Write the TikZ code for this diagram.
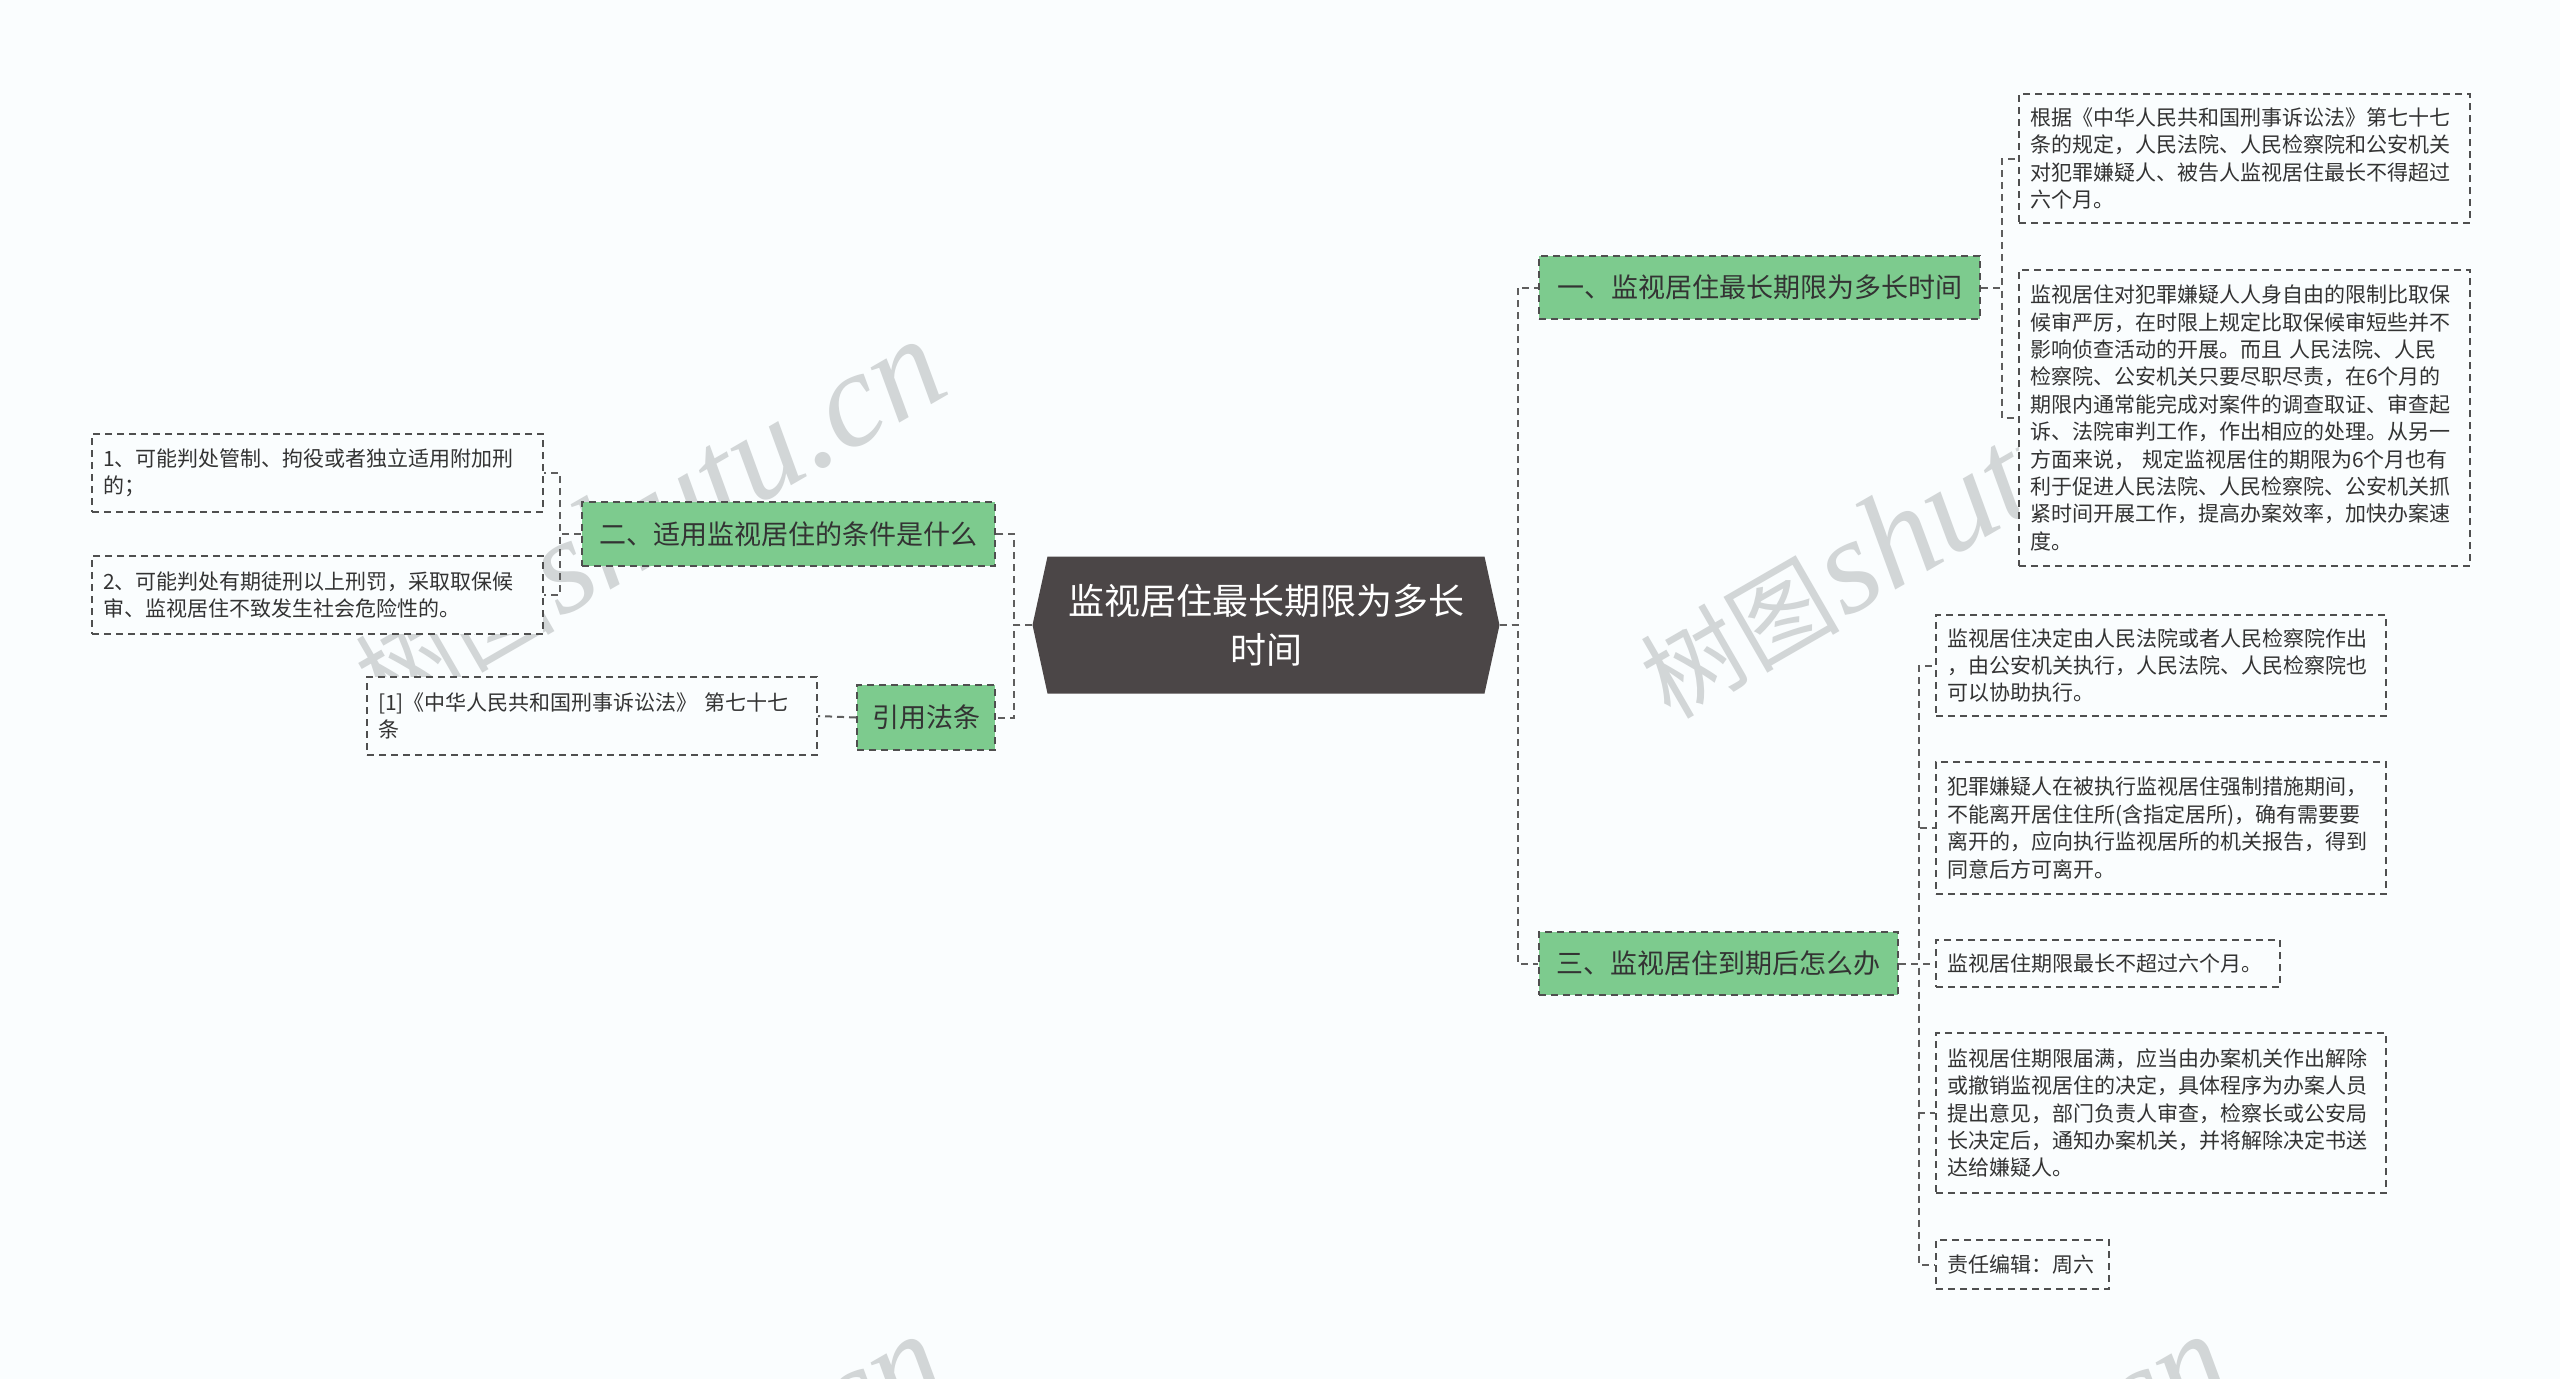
\documentclass[tikz,border=0pt]{standalone}
\usepackage{fontspec}
\newfontfamily\cjk{Noto Sans CJK SC}
\newfontfamily\wmserif{Liberation Serif}
\usetikzlibrary{calc}
\definecolor{bgc}{HTML}{FAFDFE}
\definecolor{greenc}{HTML}{7DCB8E}
\definecolor{darkc}{HTML}{4B4647}
\definecolor{linec}{HTML}{5E5E5E}
\definecolor{boxc}{HTML}{4F4F4F}
\definecolor{txtc}{HTML}{333333}
\definecolor{wmc}{HTML}{D2D6D7}
\tikzset{
  conn/.style={draw=linec, line width=2pt, dash pattern=on 7pt off 5pt},
  leafbox/.style={draw=boxc, line width=2pt, dash pattern=on 7pt off 5pt, fill=bgc,
     anchor=north west, inner xsep=11pt, inner ysep=4pt, align=left, text=txtc,
     font={\cjk\fontsize{21}{27.4}\selectfont}},
  greenbox/.style={draw=boxc, line width=2pt, dash pattern=on 7pt off 5pt, fill=greenc,
     anchor=north west, inner sep=0pt, align=center, text=txtc,
     font={\cjk\fontsize{27}{32}\selectfont}},
  centerbox/.style={inner sep=0pt, text=white, align=center,
     font={\cjk\fontsize{36}{49}\selectfont},
     path picture={\fill[darkc] (path picture bounding box.west)
        -- ([xshift=15pt]path picture bounding box.north west)
        -- ([xshift=-15pt]path picture bounding box.north east)
        -- (path picture bounding box.east)
        -- ([xshift=-15pt]path picture bounding box.south east)
        -- ([xshift=15pt]path picture bounding box.south west) -- cycle;}},
  wmark/.style={text=wmc, rotate=30, inner sep=0pt}
}
\begin{document}
\begin{tikzpicture}[x=1pt,y=-1pt]
\fill[bgc] (0,0) rectangle (2560,1379);
\useasboundingbox (0,0) rectangle (2560,1379);
% watermarks
\begin{scope}
\clip (0,0) rectangle (2560,1379);
\foreach \wx/\wy [count=\i] in {648/519, 1933/519, 648/1514, 1933/1514}{
  \node[wmark] (wm\i) at (\wx,\wy) {{\cjk\fontsize{100}{100}\selectfont 树图}\hspace{0.3em}{\wmserif\itshape\fontsize{135}{135}\selectfont shutu.cn}};
}
\end{scope}

% center node (hexagon)
\node[centerbox, minimum width=467pt, minimum height=137pt] (c) at (1266,625) {监视居住最长期限为多长\\时间};

% main branches
\node[greenbox, minimum width=441pt, minimum height=63pt] (n1) at (1538,255) {一、监视居住最长期限为多长时间};
\node[greenbox, minimum width=359pt, minimum height=63pt] (n3) at (1538,931) {三、监视居住到期后怎么办};
\node[greenbox, minimum width=413pt, minimum height=64pt] (n2) at (581,501) {二、适用监视居住的条件是什么};
\node[greenbox, minimum width=138pt, minimum height=65pt] (n4) at (856,684) {引用法条};

% leaves of n1
\node[leafbox, text width=429pt, minimum height=129pt] (l1a) at (2018,93) {根据《中华人民共和国刑事诉讼法》第七十七\\条的规定，人民法院、人民检察院和公安机关\\对犯罪嫌疑人、被告人监视居住最长不得超过\\六个月。};
\node[leafbox, text width=429pt, minimum height=296pt] (l1b) at (2018,269) {监视居住对犯罪嫌疑人人身自由的限制比取保\\候审严厉，在时限上规定比取保候审短些并不\\影响侦查活动的开展。而且 人民法院、人民\\检察院、公安机关只要尽职尽责，在6个月的\\期限内通常能完成对案件的调查取证、审查起\\诉、法院审判工作，作出相应的处理。从另一\\方面来说， 规定监视居住的期限为6个月也有\\利于促进人民法院、人民检察院、公安机关抓\\紧时间开展工作，提高办案效率，加快办案速\\度。};

% leaves of n3
\node[leafbox, text width=428pt, minimum height=101pt] (l3a) at (1935,614) {监视居住决定由人民法院或者人民检察院作出\\，由公安机关执行，人民法院、人民检察院也\\可以协助执行。};
\node[leafbox, text width=428pt, minimum height=132pt] (l3b) at (1935,761) {犯罪嫌疑人在被执行监视居住强制措施期间，\\不能离开居住住所(含指定居所)，确有需要要\\离开的，应向执行监视居所的机关报告，得到\\同意后方可离开。};
\node[leafbox, text width=322pt, minimum height=47pt] (l3c) at (1935,939) {监视居住期限最长不超过六个月。};
\node[leafbox, text width=428pt, minimum height=160pt] (l3d) at (1935,1032) {监视居住期限届满，应当由办案机关作出解除\\或撤销监视居住的决定，具体程序为办案人员\\提出意见，部门负责人审查，检察长或公安局\\长决定后，通知办案机关，并将解除决定书送\\达给嫌疑人。};
\node[leafbox, text width=151pt, minimum height=49pt] (l3e) at (1935,1239) {责任编辑：周六};

% leaves of n2
\node[leafbox, text width=429pt, minimum height=78pt] (l2a) at (91,433) {1、可能判处管制、拘役或者独立适用附加刑\\的；};
\node[leafbox, text width=429pt, minimum height=78pt] (l2b) at (91,555) {2、可能判处有期徒刑以上刑罚，采取取保候\\审、监视居住不致发生社会危险性的。};

% leaf of n4
\node[leafbox, text width=428pt, minimum height=78pt] (l4) at (366,676) {[1]《中华人民共和国刑事诉讼法》 第七十七\\条};

% connectors
\foreach \t in {n1,n3}{
  \draw[conn] (c.east) -- ++(18,0) |- (\t.west);
}
\foreach \t in {n2,n4}{
  \draw[conn] (c.west) -- ++(-18,0) |- (\t.east);
}
\foreach \t in {l1a,l1b}{
  \draw[conn] (n1.east) -- ++(21,0) |- (\t.west);
}
\foreach \t in {l3a,l3b,l3c,l3d,l3e}{
  \draw[conn] (n3.east) -- ++(20,0) |- (\t.west);
}
\foreach \t in {l2a,l2b}{
  \draw[conn] (n2.west) -- ++(-21,0) |- (\t.east);
}
\draw[conn] (n4.west) -- (l4.east);
\end{tikzpicture}
\end{document}
